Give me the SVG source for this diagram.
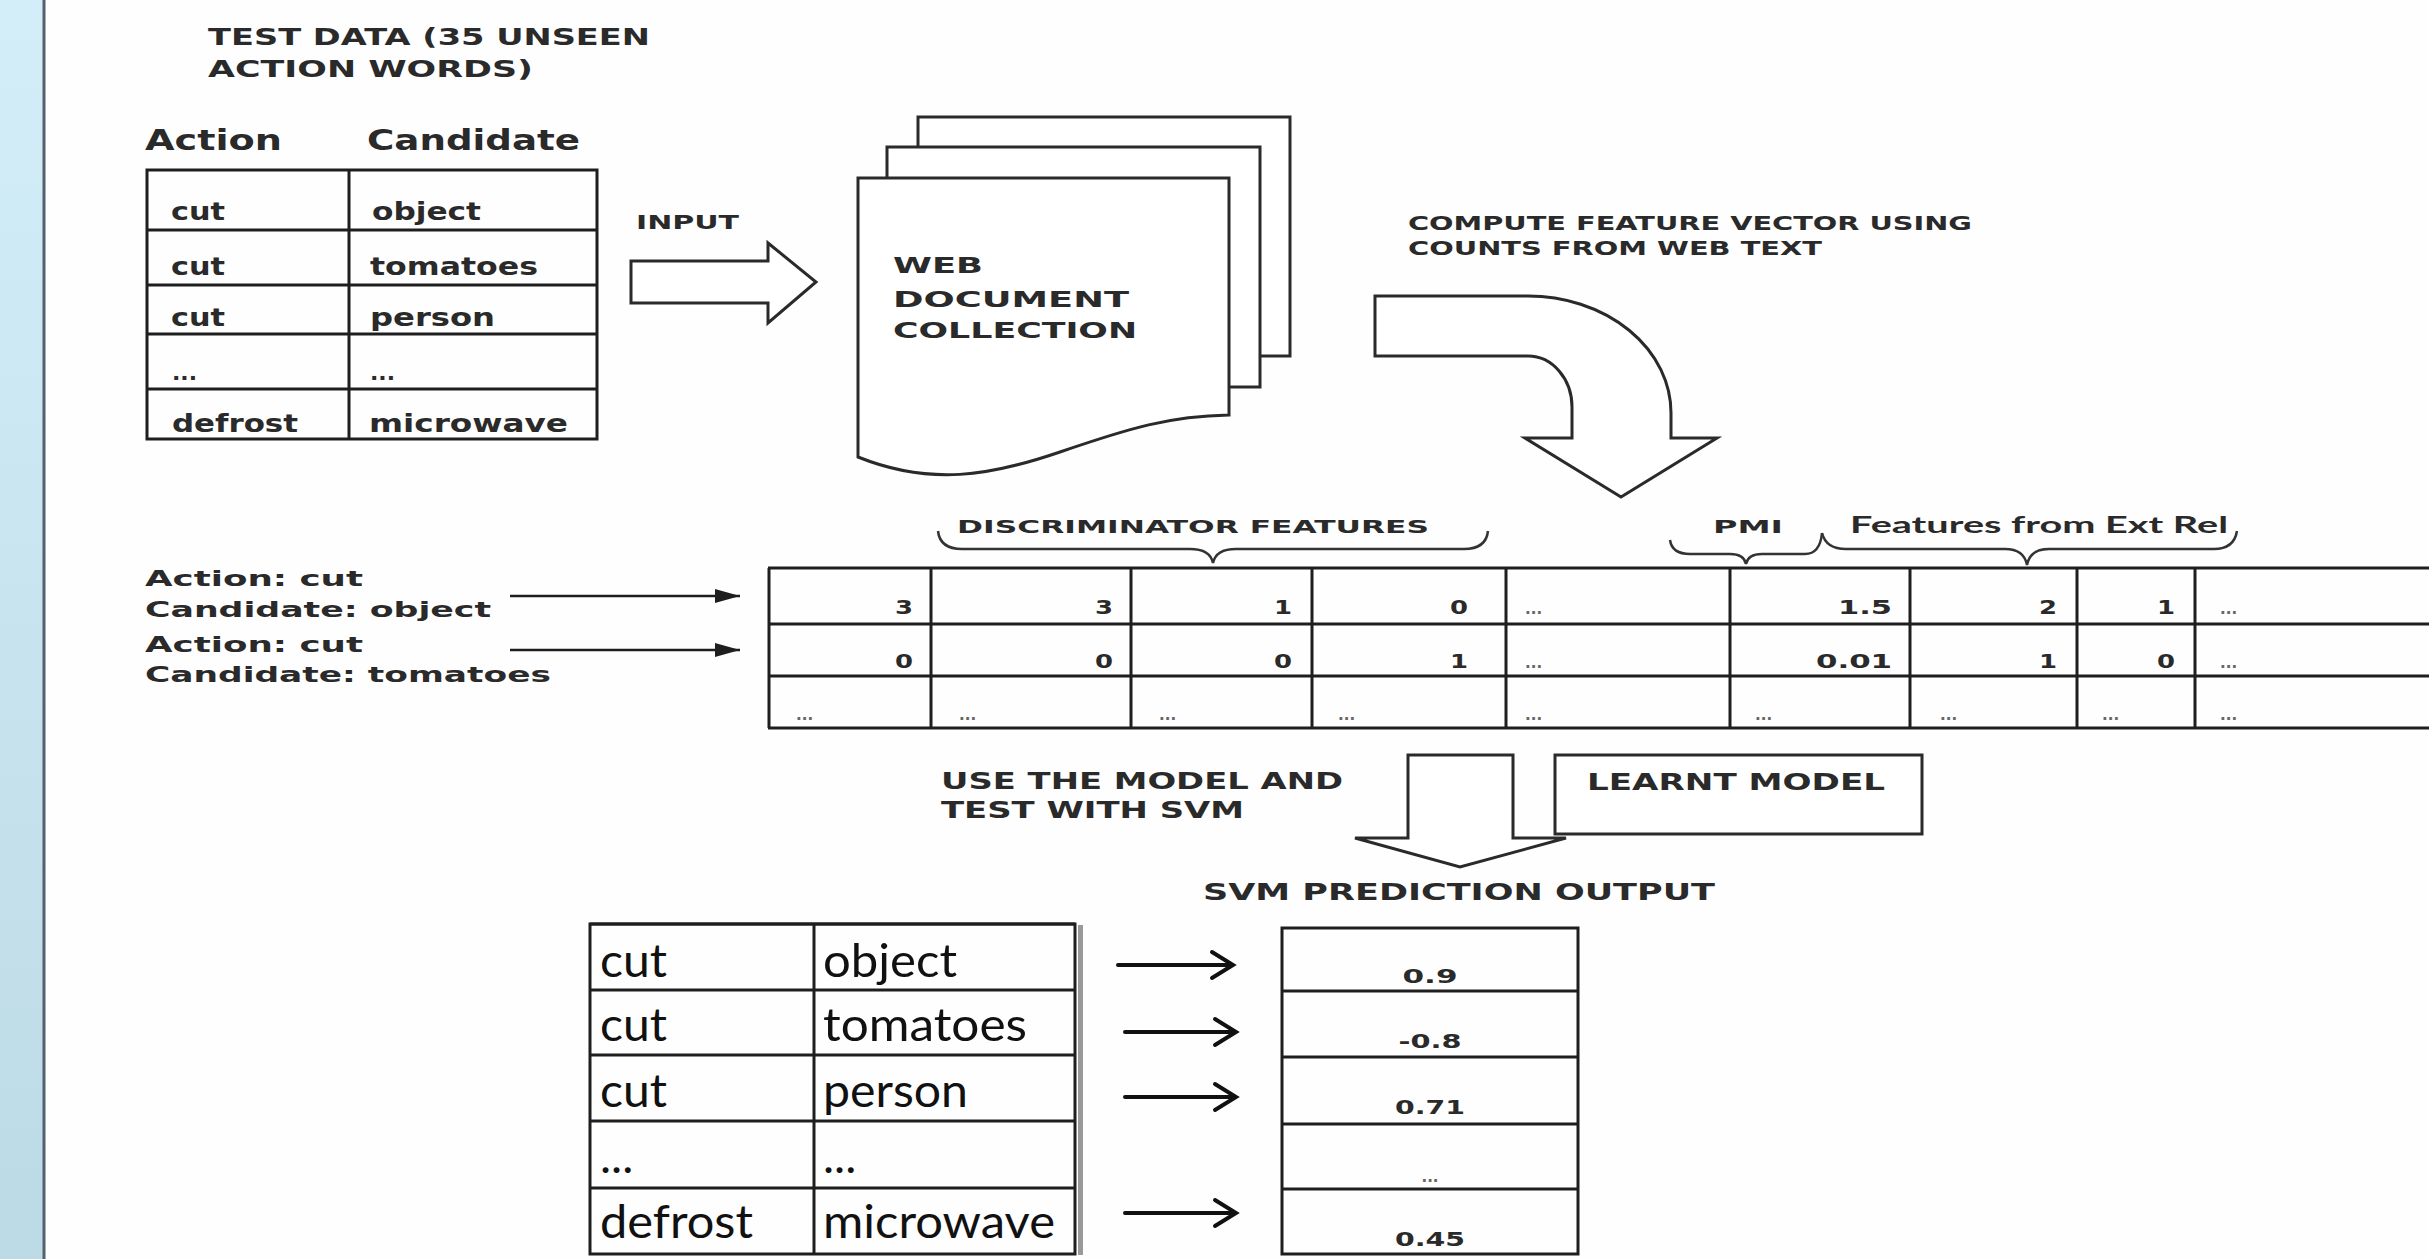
<svg xmlns="http://www.w3.org/2000/svg" width="2429" height="1259" viewBox="0 0 2429 1259">
<defs>
<linearGradient id="panel" x1="0" y1="0" x2="0" y2="1">
<stop offset="0" stop-color="#d3eef8"/>
<stop offset="1" stop-color="#bcdae5"/>
</linearGradient>
<marker id="tri" markerWidth="26" markerHeight="16" refX="25" refY="8" orient="auto" markerUnits="userSpaceOnUse">
<path d="M0,1 L25,8 L0,15 Z" fill="#1e1e1e"/>
</marker>
<style>
.t{font-family:"DejaVu Sans",Verdana,sans-serif;font-weight:bold;fill:#2a2a2a}
.cal{font-family:Lato,"Open Sans",sans-serif;fill:#111}
.calb{font-family:Lato,"Open Sans",sans-serif;font-weight:bold;fill:#2a2a2a}
.box{fill:#fff;stroke:#2a2a2a;stroke-width:3}
.grid{fill:none;stroke:#1e1e1e;stroke-width:3}
.brace{fill:none;stroke:#333;stroke-width:2.5}
.num{font-family:"DejaVu Sans",Verdana,sans-serif;font-weight:bold;font-size:20px;fill:#2a2a2a}
.dots{font-family:"DejaVu Sans",Verdana,sans-serif;font-weight:bold;font-size:15px;fill:#666}
</style>
</defs>
<rect x="0" y="0" width="2429" height="1259" fill="#fefefe"/>
<rect x="0" y="0" width="43" height="1259" fill="url(#panel)"/>
<line x1="44" y1="0" x2="44" y2="1259" stroke="#53606e" stroke-width="3"/>

<g id="title">
<text class="t" x="208" y="45" font-size="23" textLength="442" lengthAdjust="spacingAndGlyphs">TEST DATA (35 UNSEEN</text>
<text class="t" x="208" y="77" font-size="23" textLength="325" lengthAdjust="spacingAndGlyphs">ACTION WORDS)</text>
</g>

<g id="test-data-table">
<text class="t" x="145" y="150" font-size="28" fill="#111" textLength="137" lengthAdjust="spacingAndGlyphs">Action</text>
<text class="t" x="367" y="150" font-size="28" textLength="213" lengthAdjust="spacingAndGlyphs">Candidate</text>
<rect x="147" y="170" width="450" height="269" class="grid" stroke-width="3.5"/>
<path class="grid" d="M349,170 V439 M147,230 H597 M147,285 H597 M147,334 H597 M147,389 H597"/>
<text class="t" x="171" y="220" font-size="24" textLength="54" lengthAdjust="spacingAndGlyphs">cut</text>
<text class="t" x="372" y="220" font-size="24" textLength="109" lengthAdjust="spacingAndGlyphs">object</text>
<text class="t" x="171" y="275" font-size="24" textLength="54" lengthAdjust="spacingAndGlyphs">cut</text>
<text class="t" x="370" y="275" font-size="24" textLength="168" lengthAdjust="spacingAndGlyphs">tomatoes</text>
<text class="t" x="171" y="326" font-size="24" textLength="54" lengthAdjust="spacingAndGlyphs">cut</text>
<text class="t" x="370" y="326" font-size="24" textLength="125" lengthAdjust="spacingAndGlyphs">person</text>
<text class="t" x="172" y="380" font-size="22">...</text>
<text class="t" x="370" y="380" font-size="22">...</text>
<text class="t" x="172" y="432" font-size="24" textLength="126" lengthAdjust="spacingAndGlyphs">defrost</text>
<text class="t" x="369" y="432" font-size="24" textLength="199" lengthAdjust="spacingAndGlyphs">microwave</text>
</g>

<g id="input-label">
<text class="t" x="636" y="229" font-size="20" fill="#555" textLength="103" lengthAdjust="spacingAndGlyphs">INPUT</text>
</g>

<g id="web-documents">
<rect x="918" y="117" width="372" height="239" class="box"/>
<rect x="887" y="147" width="373" height="240" class="box"/>
<path class="box" d="M858,178 H1229 V415 C1170,416 1130,428 1060,452 C990,476 930,486 858,457 Z"/>
<text class="t" x="893" y="273" font-size="22" fill="#1e1e1e" textLength="90" lengthAdjust="spacingAndGlyphs">WEB</text>
<text class="t" x="893" y="307" font-size="22" fill="#1e1e1e" textLength="236" lengthAdjust="spacingAndGlyphs">DOCUMENT</text>
<text class="t" x="893" y="338" font-size="22" fill="#1e1e1e" textLength="244" lengthAdjust="spacingAndGlyphs">COLLECTION</text>
</g>

<g id="compute-label">
<text class="t" x="1408" y="230" font-size="20" textLength="564" lengthAdjust="spacingAndGlyphs">COMPUTE FEATURE VECTOR USING</text>
<text class="t" x="1408" y="255" font-size="20" textLength="414" lengthAdjust="spacingAndGlyphs">COUNTS FROM WEB TEXT</text>
</g>

<g id="pair-labels">
<text class="t" x="145" y="586" font-size="22" textLength="218" lengthAdjust="spacingAndGlyphs">Action: cut</text>
<text class="t" x="145" y="617" font-size="22" textLength="346" lengthAdjust="spacingAndGlyphs">Candidate: object</text>
<text class="t" x="145" y="652" font-size="22" textLength="218" lengthAdjust="spacingAndGlyphs">Action: cut</text>
<text class="t" x="145" y="682" font-size="22" textLength="406" lengthAdjust="spacingAndGlyphs">Candidate: tomatoes</text>
</g>

<g id="feature-headers">
<text class="t" x="957" y="533" font-size="18" textLength="472" lengthAdjust="spacingAndGlyphs">DISCRIMINATOR FEATURES</text>
<text class="t" x="1713" y="533" font-size="18" textLength="70" lengthAdjust="spacingAndGlyphs">PMI</text>
<text class="calb" x="1850" y="533" font-size="22" textLength="378" lengthAdjust="spacingAndGlyphs">Features from Ext Rel</text>
<path class="brace" d="M938,531 Q940,549 962,549 L1190,549 Q1210,549 1213,563 Q1216,549 1236,549 L1464,549 Q1486,549 1488,531"/>
<path class="brace" d="M1670,540 Q1672,554 1690,554 L1730,554 Q1744,554 1746,564 Q1748,554 1762,554 L1805,554 Q1820,554 1822,533"/>
<path class="brace" d="M1822,533 Q1826,549 1846,549 L2005,549 Q2024,549 2027,565 Q2030,549 2049,549 L2214,549 Q2234,549 2237,531"/>
</g>

<g id="feature-table">
<path class="grid" d="M768,568 H2429 M768,624 H2429 M768,676 H2429 M768,728 H2429"/>
<path class="grid" d="M769,568 V728 M931,568 V728 M1131,568 V728 M1312,568 V728 M1506,568 V728 M1730,568 V728 M1910,568 V728 M2077,568 V728 M2195,568 V728"/>
<g class="num" text-anchor="end" lengthAdjust="spacingAndGlyphs">
<text x="913" y="614" textLength="18" lengthAdjust="spacingAndGlyphs">3</text><text x="1113" y="614" textLength="18" lengthAdjust="spacingAndGlyphs">3</text><text x="1292" y="614" textLength="18" lengthAdjust="spacingAndGlyphs">1</text><text x="1468" y="614" textLength="18" lengthAdjust="spacingAndGlyphs">0</text>
<text x="1892" y="614" textLength="54" lengthAdjust="spacingAndGlyphs">1.5</text><text x="2057" y="614" textLength="18" lengthAdjust="spacingAndGlyphs">2</text><text x="2175" y="614" textLength="18" lengthAdjust="spacingAndGlyphs">1</text>
<text x="913" y="668" textLength="18" lengthAdjust="spacingAndGlyphs">0</text><text x="1113" y="668" textLength="18" lengthAdjust="spacingAndGlyphs">0</text><text x="1292" y="668" textLength="18" lengthAdjust="spacingAndGlyphs">0</text><text x="1468" y="668" textLength="18" lengthAdjust="spacingAndGlyphs">1</text>
<text x="1892" y="668" textLength="76" lengthAdjust="spacingAndGlyphs">0.01</text><text x="2057" y="668" textLength="18" lengthAdjust="spacingAndGlyphs">1</text><text x="2175" y="668" textLength="18" lengthAdjust="spacingAndGlyphs">0</text>
</g>
<g class="dots">
<text x="1525" y="614">...</text><text x="2220" y="614">...</text>
<text x="1525" y="668">...</text><text x="2220" y="668">...</text>
<text x="796" y="720">...</text><text x="959" y="720">...</text><text x="1159" y="720">...</text><text x="1338" y="720">...</text>
<text x="1525" y="720">...</text><text x="1755" y="720">...</text><text x="1940" y="720">...</text><text x="2102" y="720">...</text><text x="2220" y="720">...</text>
</g>
</g>

<g id="model-label">
<text class="t" x="941" y="789" font-size="23" textLength="402" lengthAdjust="spacingAndGlyphs">USE THE MODEL AND</text>
<text class="t" x="941" y="818" font-size="23" textLength="303" lengthAdjust="spacingAndGlyphs">TEST WITH SVM</text>
</g>

<g id="learnt-model">
<rect x="1555" y="755" width="367" height="79" class="box"/>
<text class="t" x="1587" y="790" font-size="23" textLength="298" lengthAdjust="spacingAndGlyphs">LEARNT MODEL</text>
</g>

<g id="svm-output-label">
<text class="t" x="1203" y="900" font-size="23" textLength="512" lengthAdjust="spacingAndGlyphs">SVM PREDICTION OUTPUT</text>
</g>

<g id="result-pairs">
<rect x="1078" y="925" width="5" height="330" fill="#999"/>
<rect x="590" y="924" width="485" height="330" class="grid"/>
<path class="grid" d="M814,924 V1254 M590,1055 H1075 M590,1121 H1075"/>
<path class="grid" stroke-width="5" d="M590,924 H1075 M590,990 H1075 M590,1188 H1075"/>
<text class="cal" x="600" y="977" font-size="47" textLength="67" lengthAdjust="spacingAndGlyphs">cut</text>
<text class="cal" x="823" y="977" font-size="47" textLength="134" lengthAdjust="spacingAndGlyphs">object</text>
<text class="cal" x="600" y="1041" font-size="47" textLength="67" lengthAdjust="spacingAndGlyphs">cut</text>
<text class="cal" x="823" y="1041" font-size="47" textLength="204" lengthAdjust="spacingAndGlyphs">tomatoes</text>
<text class="cal" x="600" y="1107" font-size="47" textLength="67" lengthAdjust="spacingAndGlyphs">cut</text>
<text class="cal" x="823" y="1107" font-size="47" textLength="145" lengthAdjust="spacingAndGlyphs">person</text>
<text class="cal" x="600" y="1173" font-size="47">...</text>
<text class="cal" x="823" y="1173" font-size="47">...</text>
<text class="cal" x="600" y="1238" font-size="47" textLength="153" lengthAdjust="spacingAndGlyphs">defrost</text>
<text class="cal" x="823" y="1238" font-size="47" textLength="232" lengthAdjust="spacingAndGlyphs">microwave</text>
</g>

<g id="svm-output">
<rect x="1282" y="928" width="296" height="326" class="grid"/>
<path class="grid" d="M1282,991 H1578 M1282,1057 H1578 M1282,1124 H1578 M1282,1189 H1578"/>
<g class="num" text-anchor="middle">
<text x="1430" y="983" textLength="55" lengthAdjust="spacingAndGlyphs">0.9</text>
<text x="1430" y="1048" textLength="63" lengthAdjust="spacingAndGlyphs">-0.8</text>
<text x="1430" y="1114" textLength="70" lengthAdjust="spacingAndGlyphs">0.71</text>
<text x="1430" y="1246" textLength="70" lengthAdjust="spacingAndGlyphs">0.45</text>
</g>
<text class="dots" x="1430" y="1182" text-anchor="middle">...</text>
</g>

<g id="connectors">
<path class="box" stroke-width="2.5" d="M631,261 H768 V243 L816,282 L768,323 V303 H631 Z"/>
<path class="box" stroke-width="2.5" d="M1375,296 H1528 A143,117 0 0 1 1671,413 V438 H1717 L1621,497 L1525,438 H1572 V407 A44,51 0 0 0 1528,356 H1375 Z"/>
<path class="box" stroke-width="2.5" d="M1408,755 H1513 V838 H1566 L1460,867 L1355,838 H1408 Z"/>
<line x1="510" y1="596" x2="740" y2="596" stroke="#1e1e1e" stroke-width="2.5" marker-end="url(#tri)"/>
<line x1="510" y1="650" x2="740" y2="650" stroke="#1e1e1e" stroke-width="2.5" marker-end="url(#tri)"/>
<g fill="none" stroke="#111" stroke-width="4" stroke-linecap="round" stroke-linejoin="miter">
<path d="M1118,965 H1232 M1212,952 L1233,965 L1212,978"/>
<path d="M1125,1032 H1235 M1215,1019 L1236,1032 L1215,1045"/>
<path d="M1125,1097 H1235 M1215,1084 L1236,1097 L1215,1110"/>
<path d="M1125,1213 H1235 M1215,1200 L1236,1213 L1215,1226"/>
</g>
</g>
</svg>
